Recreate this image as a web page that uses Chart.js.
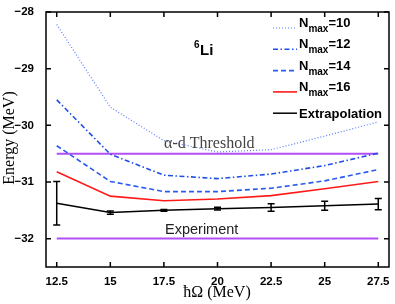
<!DOCTYPE html>
<html>
<head>
<meta charset="utf-8">
<script src="https://cdn.jsdelivr.net/npm/chart.js@4.4.0/dist/chart.umd.min.js"></script>
<style>
	html, body { margin: 0; padding: 0; background: #fff; }
	canvas { display: block; }
</style>
</head>
<body>
<canvas id="chart" width="395" height="304"></canvas>
<script>
// hbar*Omega values (MeV) and tick labels
var hbarOmega = [12.5, 15, 17.5, 20, 22.5, 25, 27.5];
var energyTicks = [-32, -31, -30, -29, -28];

// ground state energies (MeV) per Nmax
var nmax10 = [-28.22, -29.68, -30.27, -30.47, -30.43, -30.19, -29.94];
var nmax12 = [-29.55, -30.51, -30.88, -30.94, -30.86, -30.71, -30.49];
var nmax14 = [-30.36, -30.99, -31.17, -31.17, -31.11, -30.98, -30.78];
var nmax16 = [-30.82, -31.25, -31.33, -31.30, -31.24, -31.12, -30.99];
var extrapolation = [-31.375, -31.54, -31.50, -31.47, -31.45, -31.42, -31.39];
var extrapolationErr = [0.385, 0.03, 0.015, 0.025, 0.065, 0.08, 0.1];

var thresholdEnergy = -30.5;
var experimentEnergy = -31.995;

var seriesLabels = ['Nmax=10', 'Nmax=12', 'Nmax=14', 'Nmax=16', 'Extrapolation'];

function points(ys) {
	return hbarOmega.map(function (x, i) { return { x: x, y: ys[i] }; });
}
function flat(y) {
	return [{ x: hbarOmega[0], y: y }, { x: hbarOmega[hbarOmega.length - 1], y: y }];
}

var SANS = '"Liberation Sans", Arial, sans-serif';
var SERIF = '"Liberation Serif", "Times New Roman", serif';

var datasets = [
	{ label: seriesLabels[0], data: points(nmax10), borderColor: '#5a7dff', borderWidth: 1.2, borderDash: [1, 2] },
	{ label: seriesLabels[1], data: points(nmax12), borderColor: '#1f4fe8', borderWidth: 1.6, borderDash: [5, 2.5, 1.5, 2.5] },
	{ label: seriesLabels[2], data: points(nmax14), borderColor: '#2a5af0', borderWidth: 1.6, borderDash: [5, 3] },
	{ label: seriesLabels[3], data: points(nmax16), borderColor: '#ff1a1a', borderWidth: 1.6 },
	{ label: seriesLabels[4], data: points(extrapolation), borderColor: '#000', borderWidth: 1.5 },
	{ label: 'threshold', data: flat(thresholdEnergy), borderColor: '#b24ef5', borderWidth: 2, hideInLegend: true },
	{ label: 'experiment', data: flat(experimentEnergy), borderColor: '#b24ef5', borderWidth: 2, hideInLegend: true }
];
datasets.forEach(function (d) {
	d.pointRadius = 0;
	d.fill = false;
	d.tension = 0;
});

// error bars on the extrapolation
var errorBars = {
	id: 'errorBars',
	afterDatasetsDraw: function (chart) {
		var ctx = chart.ctx, xs = chart.scales.x, ys = chart.scales.y;
		ctx.save();
		ctx.strokeStyle = '#000';
		ctx.lineWidth = 1.5;
		hbarOmega.forEach(function (v, i) {
			var x = xs.getPixelForValue(v);
			var y1 = ys.getPixelForValue(extrapolation[i] + extrapolationErr[i]);
			var y2 = ys.getPixelForValue(extrapolation[i] - extrapolationErr[i]);
			ctx.beginPath();
			ctx.moveTo(x, y1); ctx.lineTo(x, y2);
			ctx.moveTo(x - 3.5, y1); ctx.lineTo(x + 3.5, y1);
			ctx.moveTo(x - 3.5, y2); ctx.lineTo(x + 3.5, y2);
			ctx.stroke();
		});
		ctx.restore();
	}
};

// box frame with inward ticks on all sides, annotations, legend
var frame = {
	id: 'frame',
	afterDraw: function (chart) {
		var ctx = chart.ctx, a = chart.chartArea, xs = chart.scales.x, ys = chart.scales.y;
		ctx.save();
		ctx.strokeStyle = '#000';
		ctx.lineWidth = 1.5;
		ctx.strokeRect(a.left, a.top, a.right - a.left, a.bottom - a.top);
		ctx.beginPath();
		hbarOmega.forEach(function (v) {
			var x = xs.getPixelForValue(v);
			ctx.moveTo(x, a.bottom); ctx.lineTo(x, a.bottom - 5);
			ctx.moveTo(x, a.top); ctx.lineTo(x, a.top + 5);
		});
		energyTicks.forEach(function (v) {
			var y = ys.getPixelForValue(v);
			ctx.moveTo(a.left, y); ctx.lineTo(a.left + 5, y);
			ctx.moveTo(a.right, y); ctx.lineTo(a.right - 5, y);
		});
		ctx.stroke();

		// axis titles
		ctx.fillStyle = '#000';
		ctx.font = '16px ' + SERIF;
		ctx.textAlign = 'center';
		ctx.textBaseline = 'alphabetic';
		ctx.fillText('ħΩ (MeV)', 217, 297);
		ctx.save();
		ctx.translate(14, 138);
		ctx.rotate(-Math.PI / 2);
		ctx.fillText('Energy (MeV)', 0, 0);
		ctx.restore();

		// annotations
		ctx.textAlign = 'left';
		ctx.fillStyle = '#444';
		ctx.font = '16px ' + SERIF;
		ctx.fillText('α-d Threshold', 164, 148);
		ctx.fillStyle = '#222';
		ctx.font = '14.5px ' + SANS;
		ctx.fillText('Experiment', 165, 234);
		ctx.fillStyle = '#000';
		ctx.font = 'bold 10px ' + SANS;
		ctx.fillText('6', 194, 48);
		ctx.font = 'bold 15px ' + SANS;
		ctx.fillText('Li', 200, 55);

		// legend
		var row = 0;
		chart.data.datasets.forEach(function (d) {
			if (d.hideInLegend) return;
			var ly = 28 + row * 21.3;
			ctx.save();
			ctx.strokeStyle = d.borderColor;
			ctx.lineWidth = d.borderWidth;
			ctx.setLineDash(d.borderDash || []);
			ctx.beginPath();
			ctx.moveTo(273, ly); ctx.lineTo(297, ly);
			ctx.stroke();
			ctx.restore();
			var tx = 299;
			var parts = d.label.split('max');
			if (parts.length === 2) {
				ctx.font = 'bold 13px ' + SANS;
				ctx.fillText(parts[0], tx, ly - 1);
				tx += ctx.measureText(parts[0]).width;
				ctx.font = 'bold 10px ' + SANS;
				ctx.fillText('max', tx, ly + 4);
				tx += ctx.measureText('max').width;
				ctx.font = 'bold 13px ' + SANS;
				ctx.fillText(parts[1], tx, ly - 1);
			} else {
				ctx.font = 'bold 13px ' + SANS;
				ctx.fillText(d.label, tx, ly + 5);
			}
			row++;
		});
		ctx.restore();
	}
};

new Chart(document.getElementById('chart'), {
	type: 'line',
	data: { datasets: datasets },
	options: {
		responsive: false,
		animation: false,
		layout: { padding: { top: 12, right: 6, left: 0, bottom: 0 } },
		plugins: {
			legend: { display: false },
			tooltip: { enabled: false }
		},
		scales: {
			x: {
				type: 'linear',
				min: 12,
				max: 28,
				grid: { display: false },
				border: { display: false },
				afterBuildTicks: function (s) { s.ticks = hbarOmega.map(function (v) { return { value: v }; }); },
				afterFit: function (s) { s.height = 37; },
				ticks: {
					padding: 0,
					color: '#000',
					font: { family: SANS, size: 11.5, weight: 'bold' },
					callback: function (v) { return String(v); }
				}
			},
			y: {
				min: -32.5,
				max: -28,
				grid: { display: false },
				border: { display: false },
				afterBuildTicks: function (s) { s.ticks = energyTicks.map(function (v) { return { value: v }; }); },
				afterFit: function (s) { s.width = 46; },
				ticks: {
					padding: 4,
					color: '#000',
					font: { family: SANS, size: 11.5, weight: 'bold' },
					callback: function (v) { return '\u2212' + Math.abs(v); }
				}
			}
		}
	},
	plugins: [errorBars, frame]
});
</script>
</body>
</html>
